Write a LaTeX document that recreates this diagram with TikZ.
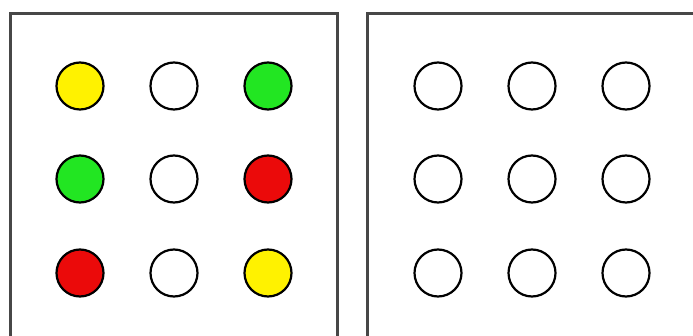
\documentclass[tikz,border=0pt]{standalone}
\begin{document}
\begin{tikzpicture}[x=1pt,y=-1pt,
  frame/.style={draw=black!72, line width=3pt},
  dot/.style={circle, draw=black, line width=2.2pt, minimum size=47pt, inner sep=0pt},
  ydot/.style={dot, fill=yellow},
  gdot/.style={dot, fill={rgb,255:red,34;green,230;blue,34}},
  rdot/.style={dot, fill={rgb,255:red,235;green,10;blue,10}},
  wdot/.style={dot, fill=white}]
\useasboundingbox (0,0) rectangle (693,336);
\draw[frame] (10,345) -- (10,14) -- (337,14) -- (337,345);
\draw[frame] (367,345) -- (367,14) -- (700,14);
% left panel
\node[ydot] (a11) at (80,86) {};
\node[wdot] (a12) at (174,86) {};
\node[gdot] (a13) at (268,86) {};
\node[gdot] (a21) at (80,179) {};
\node[wdot] (a22) at (174,179) {};
\node[rdot] (a23) at (268,179) {};
\node[rdot] (a31) at (80,273) {};
\node[wdot] (a32) at (174,273) {};
\node[ydot] (a33) at (268,273) {};
% right panel
\node[wdot] (b11) at (438,86) {};
\node[wdot] (b12) at (532,86) {};
\node[wdot] (b13) at (626,86) {};
\node[wdot] (b21) at (438,179) {};
\node[wdot] (b22) at (532,179) {};
\node[wdot] (b23) at (626,179) {};
\node[wdot] (b31) at (438,273) {};
\node[wdot] (b32) at (532,273) {};
\node[wdot] (b33) at (626,273) {};
\end{tikzpicture}
\end{document}
